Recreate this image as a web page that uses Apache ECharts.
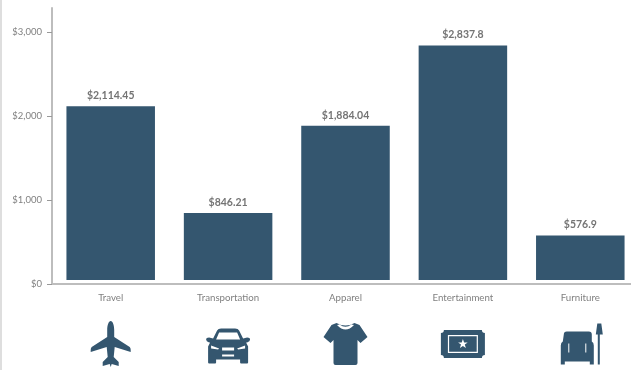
<!DOCTYPE html>
<html>
<head>
<meta charset="utf-8">
<style>html,body{margin:0;padding:0;background:#fff;overflow:hidden}#chart{width:631px;height:370px}</style>
<script src="https://cdn.jsdelivr.net/npm/echarts@6/dist/echarts.min.js"></script>
</head>
<body>
<div id="chart"></div>
<script>
// Spending per category, in dollars
const categories = ['Travel', 'Transportation', 'Apparel', 'Entertainment', 'Furniture'];
const spending = [2114.45, 846.21, 1884.04, 2837.8, 576.9];
const valueTicks = [0, 1000, 2000, 3000];
const valueAxisTop = 3285;
const barFootGap = 48;

// Category pictograms; inner shapes wind the other way so they read as cut-outs
const plane = 'path://M20 0C22 0 23.5 4 23.5 9L23.5 16L39 26Q40 27 40 29L40 31L24 26L23 36L28 41L28 45L21 43L20 46L19 43L12 45L12 41L17 36L16 26L0 31L0 29Q0 27 1 26L16.5 16L16.5 9C16.5 4 18 0 20 0Z';
const car = 'path://M11 2Q12 0 15 0L29 0Q32 0 33 2L37 10L41 9Q44 9 44 11Q44 13 41 14L40 14L42 18L42 34Q42 35 41 35L35 35Q34 35 34 34L34 31L10 31L10 34Q10 35 9 35L3 35Q2 35 2 34L2 18L4 14L3 14Q0 13 0 11Q0 9 3 9L7 10Z'
  + 'M13 4L10 11L34 11L31 4Z M5 17L5 20L12 21L13 20Z M31 20L32 21L39 20L39 17Z M16 19L16 22L28 22L28 19Z M16 26L16 28L28 28L28 26Z';
const tee = 'path://M13 0Q22 5 31 0L36 2L44 14L37 20L34 17L34 40Q34 42 32 42L12 42Q10 42 10 40L10 17L7 20L0 14L8 2Z'
  + 'M13.5 2Q22 11 30.5 2L28 1.5Q22 6 16 1.5Z';
const ticket = 'path://M3 0L41 0Q41 3 44 3L44 25Q41 25 41 28L3 28Q3 25 0 25L0 3Q3 3 3 0Z'
  + 'M7 5L7 23L37 23L37 5Z M8.2 6.2L35.8 6.2L35.8 21.8L8.2 21.8Z'
  + 'M22 9L20.8 12.4L17.2 12.5L20.1 14.6L19 18L22 16L25 18L23.9 14.6L26.8 12.5L23.2 12.4Z';
const chair = 'path://M6 8L28 8Q31 8 31 11L31 18Q33 19 33 22L33 41L29 41L29 38L4 38L4 41L0 41L0 22Q0 19 2 18L3 11Q3 8 6 8Z'
  + 'M7.5 20L7.5 29L8.5 29L8.5 20Z M24.5 20L24.5 29L25.5 29L25.5 20Z'
  + 'M36.5 0L40.5 0L42 11L39 11L39 41L37 41L37 11L35 11Z';
const iconShapes = [plane, car, tee, ticket, chair];
const iconSizes = [[40, 46], [44, 35], [44, 42], [44, 28], [42, 41]];
const iconNudge = [[0, 0], [0, 2], [0, 0], [0, 0], [1.5, 0]];

const ink = '#34566f';
const textGrey = '#808080';
const ruleGrey = '#bdbdbd';
const fontFamily = 'Lato, "Open Sans", sans-serif';

const chart = echarts.init(document.getElementById('chart'), null, { renderer: 'canvas' });
chart.setOption({
  animation: false,
  backgroundColor: '#fff',
  grid: [
    { left: 52, top: 8, width: 587, height: 276, outerBoundsMode: 'none' },
    { left: 52, top: 320, width: 587, height: 48, outerBoundsMode: 'none' }
  ],
  graphic: [{
    type: 'rect', shape: { x: 0, y: 0, width: 2, height: 370 },
    style: { fill: '#dedede' }, silent: true
  }],
  xAxis: [
    {
      gridIndex: 0, type: 'category', data: categories, z: 5,
      axisLine: { lineStyle: { color: ruleGrey, width: 2 } },
      axisTick: { alignWithLabel: true, length: 5, lineStyle: { color: '#999' } },
      axisLabel: { color: textGrey, fontSize: 9.7, fontFamily, margin: 9 }
    },
    { gridIndex: 1, type: 'category', data: categories, show: false }
  ],
  yAxis: [
    {
      gridIndex: 0, type: 'value', min: 0, max: valueAxisTop, interval: 1000, z: 5,
      splitLine: { show: false },
      axisLine: { show: true, lineStyle: { color: ruleGrey, width: 2 } },
      axisTick: { show: true, length: 5, customValues: valueTicks, lineStyle: { color: '#999' } },
      axisLabel: {
        color: textGrey, fontSize: 9.5, fontFamily, margin: 10, customValues: valueTicks,
        formatter: v => '$' + v.toLocaleString('en-US')
      }
    },
    { gridIndex: 1, type: 'value', min: -1, max: 1, show: false }
  ],
  series: [
    {
      type: 'bar', xAxisIndex: 0, yAxisIndex: 0, data: spending, z: 2,
      barCategoryGap: '24.6%',
      itemStyle: { color: ink },
      label: {
        show: true, position: 'top', distance: 5,
        color: '#747474', fontSize: 10.5, fontWeight: 'bold', fontFamily,
        formatter: p => '$' + p.value.toLocaleString('en-US', { maximumFractionDigits: 2 })
      },
      // The columns stop just short of the axis line
      markArea: {
        silent: true, z: 3,
        itemStyle: { color: '#fff' },
        data: [[{ yAxis: 0 }, { yAxis: barFootGap }]]
      }
    },
    {
      type: 'scatter', xAxisIndex: 1, yAxisIndex: 1, clip: false, silent: true,
      data: categories.map((name, i) => ({
        name, value: [name, 0],
        symbol: iconShapes[i],
        symbolSize: iconSizes[i],
        symbolOffset: iconNudge[i]
      })),
      itemStyle: { color: ink, opacity: 1 }
    }
  ]
});
</script>
</body>
</html>
